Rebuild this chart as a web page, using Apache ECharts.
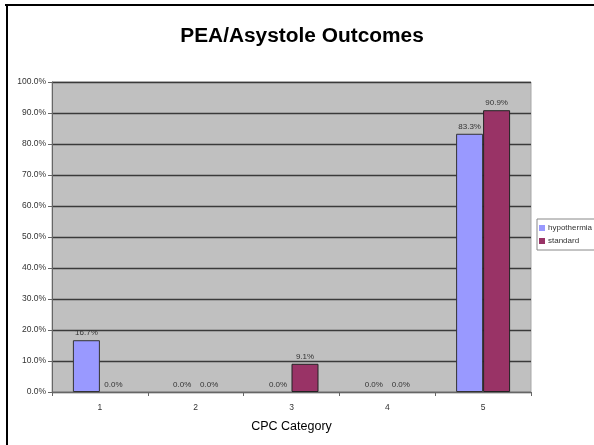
<!DOCTYPE html>
<html>
<head>
<meta charset="utf-8">
<script src="https://cdn.jsdelivr.net/npm/echarts@6/dist/echarts.min.js"></script>
<style>
  html, body { margin: 0; padding: 0; background: #fff; }
  #chart { width: 594px; height: 445px; }
</style>
</head>
<body>
<div id="chart"></div>
<script>
// CPC outcome categories and the share of patients in each
const categories = ['1', '2', '3', '4', '5'];
const hypothermia = [16.7, 0.0, 0.0, 0.0, 83.3];
const standard = [0.0, 0.0, 9.1, 0.0, 90.9];
const seriesNames = ['hypothermia', 'standard'];
const titleText = 'PEA/Asystole Outcomes';

const FONT = 'Liberation Sans, Arial, sans-serif';
const chart = echarts.init(document.getElementById('chart'), null, { renderer: 'canvas' });

const labelStyle = {
  show: true,
  position: 'top',
  distance: 3,
  fontFamily: FONT,
  fontSize: 8,
  color: '#333',
  formatter: p => p.value.toFixed(1) + '%'
};

// zero-height bars get no outline so they don't leave a stray line on the axis
const barData = (values, border) => values.map(v => ({
  value: v,
  itemStyle: { borderWidth: v > 0 ? 1 : 0, borderColor: border }
}));

chart.setOption({
  animation: false,
  backgroundColor: '#fff',
  graphic: [
    { type: 'rect', shape: { x: 5, y: 4, width: 589, height: 2 }, style: { fill: '#000' } },
    { type: 'rect', shape: { x: 6, y: 4, width: 2, height: 441 }, style: { fill: '#000' } },
    {
      type: 'text',
      x: 302,
      y: 36.5,
      scaleX: 1.07,
      style: {
        text: titleText,
        font: 'bold 19.5px ' + FONT,
        fill: '#000',
        align: 'center',
        verticalAlign: 'middle'
      }
    }
  ],
  legend: {
    orient: 'vertical',
    left: 537,
    top: 219,
    itemWidth: 6,
    itemHeight: 6,
    itemGap: 5,
    padding: [5, 4, 5, 2],
    borderColor: '#888',
    borderWidth: 1,
    icon: 'rect',
    textStyle: {
      fontFamily: FONT,
      fontSize: 8,
      color: '#333',
      padding: [0, 0, 0, -2]
    },
    data: seriesNames
  },
  grid: {
    left: 52,
    right: 63,
    top: 82,
    bottom: 53,
    show: true,
    backgroundColor: '#C0C0C0',
    borderColor: '#a8a8a8',
    borderWidth: 1
  },
  xAxis: {
    type: 'category',
    data: categories,
    name: 'CPC Category',
    nameLocation: 'middle',
    nameGap: 28,
    nameTextStyle: {
      fontFamily: FONT,
      fontSize: 12.5,
      color: '#000'
    },
    axisLine: { lineStyle: { color: '#666', width: 1 } },
    axisTick: { show: true, alignWithLabel: false, length: 4, lineStyle: { color: '#666' } },
    axisLabel: {
      fontFamily: FONT,
      fontSize: 8.5,
      color: '#333',
      margin: 11
    }
  },
  yAxis: {
    type: 'value',
    min: 0,
    max: 100,
    interval: 10,
    axisLine: { show: true, lineStyle: { color: '#666' } },
    axisTick: { show: true, length: 4, lineStyle: { color: '#666' } },
    axisLabel: {
      fontFamily: FONT,
      fontSize: 8.5,
      color: '#333',
      margin: 6,
      formatter: v => v.toFixed(1) + '%'
    },
    splitLine: { show: true, lineStyle: { color: '#3a3a3a', width: 1.3 } }
  },
  series: [
    {
      name: seriesNames[0],
      type: 'bar',
      data: barData(hypothermia, '#333'),
      barWidth: 27,
      barGap: '0%',
      itemStyle: { color: '#9999FF' },
      label: labelStyle
    },
    {
      name: seriesNames[1],
      type: 'bar',
      data: barData(standard, '#222'),
      barWidth: 27,
      barGap: '0%',
      itemStyle: { color: '#993366' },
      label: labelStyle
    }
  ]
});
</script>
</body>
</html>
